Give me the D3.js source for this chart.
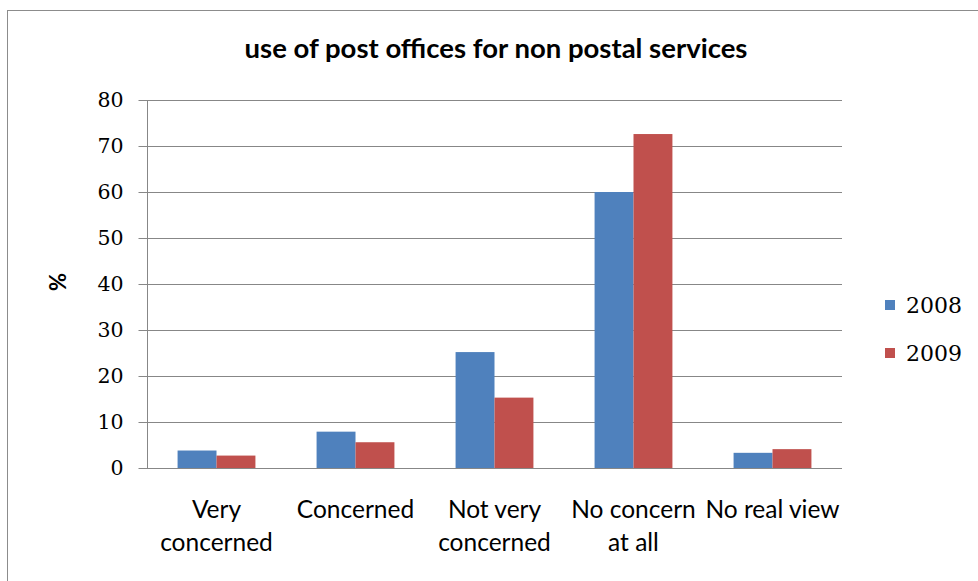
<!DOCTYPE html>
<html><head><meta charset="utf-8">
<script src="https://cdn.jsdelivr.net/npm/d3@7/dist/d3.min.js"></script>
<style>body{margin:0;background:#fff;}svg{display:block;}</style>
</head><body>
<svg id="c" width="978" height="581"></svg>
<script>
const categories = ["Very\nconcerned", "Concerned", "Not very\nconcerned", "No concern\nat all", "No real view"];
const seriesNames = ["2008", "2009"];
const values2008 = [3.8, 7.9, 25.2, 60.0, 3.3];
const values2009 = [2.7, 5.6, 15.3, 72.6, 4.1];
const yTicks = [0, 10, 20, 30, 40, 50, 60, 70, 80];
const colors = ["#4F81BD", "#C0504D"];
const title = "use of post offices for non postal services";
const yLabel = "%";

(function () {
const svg = d3.select("#c");
const W = 978, H = 581;
svg.append("rect").attr("x", 0).attr("y", 0).attr("width", W).attr("height", H).attr("fill", "#fff");
svg.append("rect").attr("x", 7.5).attr("y", 10.5).attr("width", W + 10).attr("height", H + 10)
  .attr("fill", "none").attr("stroke", "#8c8c8c").attr("stroke-width", 1);

const pL = 147, pR = 842, pT = 100, pB = 468;
const x = d3.scaleBand().domain(categories).range([pL, pR]).paddingInner(0.44).paddingOuter(0.22);
const xs = d3.scaleBand().domain(seriesNames).range([0, x.bandwidth()]);
const y = d3.scaleLinear().domain([0, 80]).range([pB, pT]);

// gridlines
svg.append("g").selectAll("line").data(yTicks.filter(d => d > 0)).join("line")
  .attr("x1", pL).attr("x2", pR)
  .attr("y1", d => Math.round(y(d)) + 0.5).attr("y2", d => Math.round(y(d)) + 0.5)
  .attr("stroke", "#878787").attr("stroke-width", 1);

// bars
const data = categories.map((c, i) => [
  {c, s: seriesNames[0], v: values2008[i]},
  {c, s: seriesNames[1], v: values2009[i]}
]).flat();
svg.append("g").selectAll("rect").data(data).join("rect")
  .attr("x", d => x(d.c) + xs(d.s))
  .attr("width", xs.bandwidth())
  .attr("y", d => y(d.v))
  .attr("height", d => y(0) - y(d.v))
  .attr("fill", (d) => colors[seriesNames.indexOf(d.s)]);

// y axis
const yAxis = d3.axisLeft(y).tickValues(yTicks).tickSize(9).tickPadding(15);
const gy = svg.append("g").attr("transform", `translate(${pL + 0.5},0)`).call(yAxis);
gy.select(".domain").attr("stroke", "#878787").attr("d", `M0,${pT}V${pB}`);
gy.selectAll(".tick line").attr("stroke", "#878787");
gy.selectAll(".tick text").attr("font-family", "DejaVu Serif, serif").attr("font-size", 20.5).attr("fill", "#000");

// x axis baseline
const xAxis = d3.axisBottom(x).tickSize(0).tickFormat("");
const gx = svg.append("g").attr("transform", `translate(0,${pB + 0.5})`).call(xAxis);
gx.select(".domain").attr("stroke", "#878787").attr("d", `M${pL},0H${pR}`);

// x labels
const lab = svg.append("g");
categories.forEach(c => {
  const lines = c.split("\n");
  const t = lab.append("text").attr("text-anchor", "middle")
    .attr("font-family", "Lato, sans-serif").attr("font-size", 24.5).attr("fill", "#000");
  lines.forEach((ln, k) => {
    t.append("tspan").attr("x", x(c) + x.bandwidth() / 2).attr("y", 518 + k * 33).text(ln);
  });
});

// title
svg.append("text").attr("x", 496).attr("y", 58).attr("text-anchor", "middle")
  .attr("font-family", "Lato, sans-serif").attr("font-weight", "bold").attr("font-size", 27.5)
  .attr("fill", "#000").text(title);

// y label
svg.append("text").attr("transform", "translate(66,282) rotate(-90)").attr("text-anchor", "middle")
  .attr("font-family", "Lato, sans-serif").attr("font-weight", "bold").attr("font-size", 22)
  .attr("fill", "#000").text(yLabel);

// legend
const lg = svg.append("g");
seriesNames.forEach((s, i) => {
  const yy = 305 + i * 48;
  lg.append("rect").attr("x", 885).attr("y", yy - 5).attr("width", 10).attr("height", 10).attr("fill", colors[i]);
  lg.append("text").attr("x", 906).attr("y", yy + 8).attr("font-family", "DejaVu Serif, serif")
    .attr("font-size", 22).attr("fill", "#000").text(s);
});
})();
</script>
</body></html>
